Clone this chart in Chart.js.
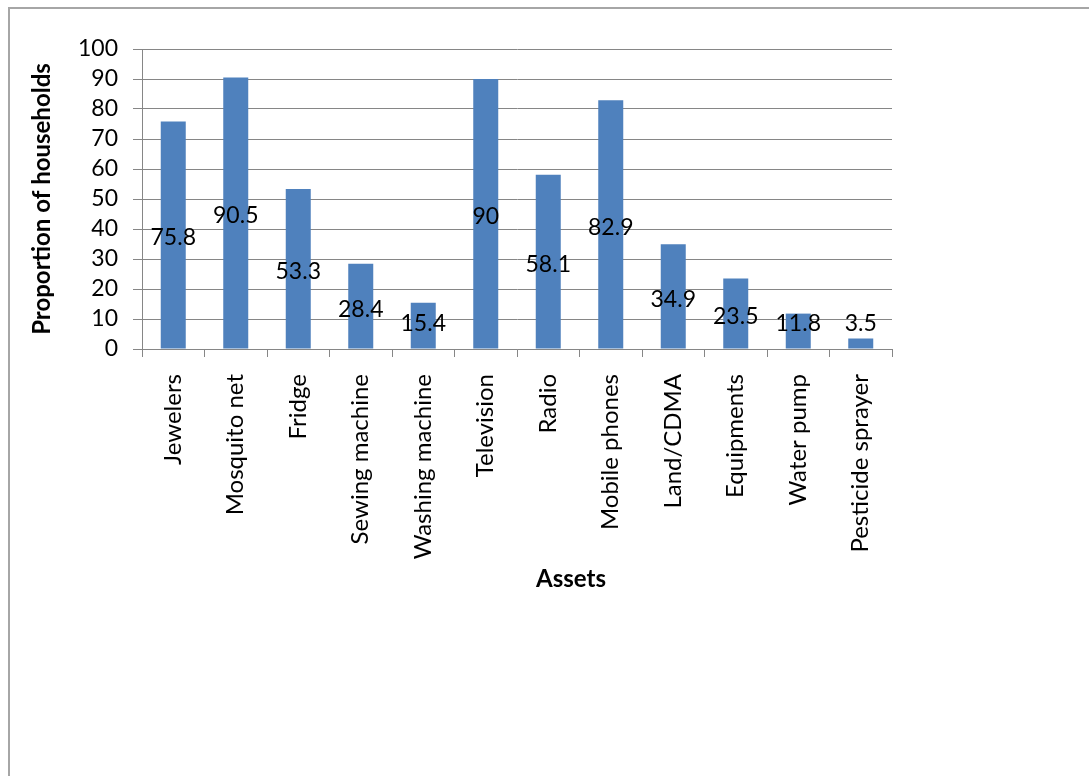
<!DOCTYPE html>
<html>
<head>
<meta charset="utf-8">
<script src="https://cdn.jsdelivr.net/npm/chart.js@4.4.0/dist/chart.umd.min.js"></script>
<style>
  html, body { margin: 0; padding: 0; background: #fff; overflow: hidden; }
  #wrap { position: relative; width: 1089px; height: 776px; }
  #frame {
    position: absolute; left: 8px; top: 7px; width: 1200px; height: 900px;
    border: 2px solid #a6a6a6; box-sizing: border-box; pointer-events: none;
  }
  canvas { position: absolute; left: 0; top: 0; }
</style>
</head>
<body>
<div id="wrap">
  <canvas id="myChart" width="1089" height="776"></canvas>
  <div id="frame"></div>
</div>
<script>
// asset categories (x axis)
const assets = ['Jewelers', 'Mosquito net', 'Fridge', 'Sewing machine', 'Washing machine',
  'Television', 'Radio', 'Mobile phones', 'Land/CDMA', 'Equipments', 'Water pump', 'Pesticide sprayer'];
// share of households owning each asset
const proportions = [75.8, 90.5, 53.3, 28.4, 15.4, 90, 58.1, 82.9, 34.9, 23.5, 11.8, 3.5];
const yTitle = 'Proportion of households';
const xTitle = 'Assets';

const fontFamily = 'Lato, "Open Sans", sans-serif';
const gridGray = '#868686';

// numbers written in the middle of each bar
const barLabels = {
    id: 'barLabels',
    afterDatasetsDraw(chart) {
        const ctx = chart.ctx;
        const meta = chart.getDatasetMeta(0);
        ctx.save();
        ctx.font = '23px ' + fontFamily;
        ctx.fillStyle = '#000';
        ctx.textAlign = 'center';
        ctx.textBaseline = 'middle';
        meta.data.forEach((bar, i) => {
            let y = (bar.y + bar.base) / 2 + 3;
            // keep short bars' labels off the axis line
            y = Math.min(y, bar.base - 25);
            ctx.fillText(String(chart.data.datasets[0].data[i]), bar.x, y);
        });
        ctx.restore();
    }
};

// x axis title sits a little right of the plot centre
const assetsTitle = {
    id: 'assetsTitle',
    afterDraw(chart) {
        const ctx = chart.ctx;
        const area = chart.chartArea;
        ctx.save();
        ctx.font = 'bold 24px ' + fontFamily;
        ctx.fillStyle = '#000';
        ctx.textAlign = 'center';
        ctx.textBaseline = 'middle';
        ctx.fillText(xTitle, (area.left + area.right) / 2 + 54, 579);
        ctx.restore();
    }
};

let myChart = document.getElementById('myChart').getContext('2d');

const chart = new Chart(myChart, {
    type: 'bar',
    data: {
        labels: assets,
        datasets: [{
            data: proportions,
            backgroundColor: '#4f81bd',
            borderWidth: 0,
            categoryPercentage: 1,
            barPercentage: 0.4,
        }]
    },
    options: {
        responsive: false,
        animation: false,
        layout: {
            padding: { left: 20, top: 49, right: 197, bottom: 0 }
        },
        scales: {
            y: {
                min: 0,
                max: 100,
                afterFit: (scale) => { scale.width = 122; },
                ticks: {
                    stepSize: 10,
                    autoSkip: false,
                    color: '#000',
                    padding: 15,
                    font: { family: fontFamily, size: 23 },
                },
                grid: {
                    color: gridGray,
                    lineWidth: 1,
                    tickLength: 9,
                },
                border: { display: true, color: gridGray, width: 1 },
                title: {
                    display: true,
                    text: yTitle,
                    color: '#000',
                    padding: { top: 8, bottom: 0 },
                    font: { family: fontFamily, size: 24, weight: 'bold' },
                },
            },
            x: {
                afterFit: (scale) => { scale.height = 427; },
                ticks: {
                    color: '#000',
                    minRotation: 90,
                    maxRotation: 90,
                    padding: 17,
                    autoSkip: false,
                    font: { family: fontFamily, size: 24 },
                },
                grid: {
                    offset: true,
                    drawOnChartArea: false,
                    color: gridGray,
                    tickLength: 8,
                },
                border: { display: true, color: gridGray, width: 1 },
            },
        },
        plugins: {
            legend: { display: false },
            tooltip: { enabled: false },
        },
    },
    plugins: [barLabels, assetsTitle],
});
</script>
</body>
</html>
